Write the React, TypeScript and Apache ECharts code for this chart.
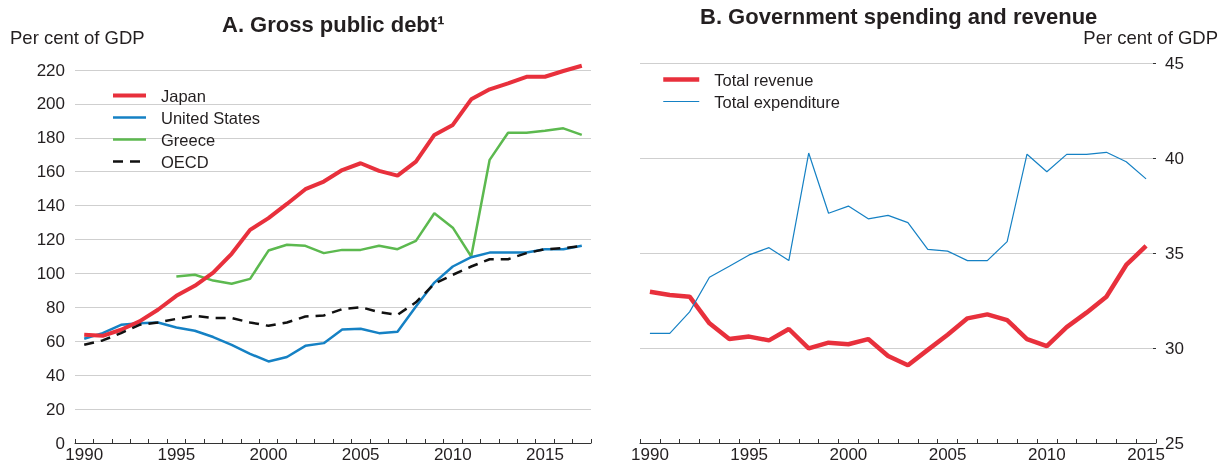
import React, { useEffect, useRef } from "react";
import * as echarts from "echarts";

const yearsA = ["1990","1991","1992","1993","1994","1995","1996","1997","1998","1999","2000","2001","2002","2003","2004","2005","2006","2007","2008","2009","2010","2011","2012","2013","2014","2015","2016","2017"];
const japan = [63.8,63.2,66.8,71.7,78.6,86.8,92.7,100.5,111.6,125.7,132.6,141,149.7,154.2,161,165,160.5,157.7,166,181.7,187.6,202.7,208.6,212.1,216,216,219.4,222.5];
const unitedStates = [61.5,64.8,69.7,70.7,71.1,68.1,66.2,62.5,57.9,52.6,48.1,50.7,57.3,58.9,66.9,67.4,64.8,65.6,80.5,94.6,104.1,109.6,112.3,112.3,112.3,114.3,114.3,116.3];
const greece = [null,null,null,null,null,98.2,99.2,95.8,93.9,96.8,113.5,116.9,116.3,112,113.9,113.9,116.3,114.3,119.2,135.5,127,110,167,183,183,184.2,185.6,181.7];
const oecd = [57.9,60.5,64.8,69.7,71.1,73.2,75,73.7,73.7,71.1,69.1,71.1,74.6,75.2,79,80.1,77.2,75.6,83,93.9,99.2,104.1,108.4,108.4,112,114.3,114.9,116.3];

const yearsB = ["1990","1991","1992","1993","1994","1995","1996","1997","1998","1999","2000","2001","2002","2003","2004","2005","2006","2007","2008","2009","2010","2011","2012","2013","2014","2015"];
const totalRevenue = [32.96,32.79,32.7,31.3,30.47,30.6,30.4,31.0,29.98,30.28,30.2,30.47,29.58,29.09,29.9,30.7,31.56,31.77,31.47,30.47,30.1,31.1,31.86,32.7,34.37,35.37];
const totalExpenditure = [30.77,30.77,31.9,33.72,34.3,34.9,35.28,34.6,40.26,37.09,37.47,36.8,36.98,36.6,35.19,35.1,34.6,34.6,35.6,40.2,39.28,40.19,40.19,40.3,39.8,38.9];

const ticksA = [0, 220, 20];
const ticksB = [25, 45, 5];

const FONT = "'Liberation Sans', Arial, Helvetica, sans-serif";
const TXT = "#231f20";
const RED = "#e8303c";
const BLUE = "#1581c4";
const GREEN = "#5cb94f";
const GRID = "#cfcfcf";

export default function App() {
  const ref = useRef<HTMLDivElement>(null);
  useEffect(() => {
    if (!ref.current) return;
    const chart = echarts.init(ref.current, null, { renderer: "svg" });
    const xAxisCommon = (idx: number, data: string[]) => ({
      type: "category",
      gridIndex: idx,
      data,
      boundaryGap: true,
      axisLine: { lineStyle: { color: "#333", width: 1 } },
      axisTick: { show: true, inside: true, length: 4, interval: 0, lineStyle: { color: "#333" } },
      axisLabel: {
        interval: (i: number) => i % 5 === 0,
        color: TXT,
        fontSize: 17,
        fontFamily: FONT,
        margin: 3,
      },
      splitLine: { show: false },
    });
    const legendCommon = {
      orient: "vertical",
      itemHeight: 14,
      itemGap: 5,
      itemStyle: { opacity: 0 },
      lineStyle: { width: "inherit" },
    };
    chart.setOption({
      animation: false,
      textStyle: { fontFamily: FONT },
      grid: [
        { left: 75, right: 628, top: 70, bottom: 22 },
        { left: 640, right: 63, top: 63, bottom: 22 },
      ],
      xAxis: [xAxisCommon(0, yearsA), xAxisCommon(1, yearsB)],
      yAxis: [
        {
          type: "value",
          gridIndex: 0,
          min: ticksA[0],
          max: ticksA[1],
          interval: ticksA[2],
          axisLine: { show: false },
          axisTick: { show: false },
          axisLabel: { color: TXT, fontSize: 17, fontFamily: FONT, margin: 10 },
          splitLine: { lineStyle: { color: GRID, width: 1 } },
        },
        {
          type: "value",
          gridIndex: 1,
          position: "right",
          min: ticksB[0],
          max: ticksB[1],
          interval: ticksB[2],
          axisLine: { show: false },
          axisTick: { show: true, inside: true, length: 3, lineStyle: { color: "#333" } },
          axisLabel: { color: TXT, fontSize: 17, fontFamily: FONT, margin: 9 },
          splitLine: { lineStyle: { color: GRID, width: 1 } },
        },
      ],
      legend: [
        {
          ...legendCommon,
          left: 106,
          top: 82,
          itemWidth: 33,
          data: ["Japan", "United States", "Greece", "OECD"],
          textStyle: { color: TXT, fontSize: 16.5, fontFamily: FONT, lineHeight: 14, padding: [0, 0, 0, 10] },
        },
        {
          ...legendCommon,
          left: 656,
          top: 66,
          itemWidth: 36,
          data: ["Total revenue", "Total expenditure"],
          textStyle: { color: TXT, fontSize: 16.5, fontFamily: FONT, lineHeight: 14, padding: [0, 0, 0, 10] },
        },
      ],
      graphic: [
        { type: "text", left: 10, top: 28, style: { text: "Per cent of GDP", fontSize: 18.5, fontFamily: FONT, fill: TXT } },
        { type: "text", right: 1, top: 28, style: { text: "Per cent of GDP", fontSize: 18.5, fontFamily: FONT, fill: TXT } },
        { type: "text", left: 222, top: 13, style: { text: "A. Gross public debt\u00b9", fontSize: 22, fontWeight: "bold", fontFamily: FONT, fill: TXT } },
        { type: "text", left: 700, top: 5, style: { text: "B. Government spending and revenue", fontSize: 22, fontWeight: "bold", fontFamily: FONT, fill: TXT } },
      ],
      series: [
        { name: "Japan", type: "line", xAxisIndex: 0, yAxisIndex: 0, data: japan, symbol: "none", clip: false, lineStyle: { color: RED, width: 4 }, itemStyle: { color: RED }, z: 4 },
        { name: "United States", type: "line", xAxisIndex: 0, yAxisIndex: 0, data: unitedStates, symbol: "none", clip: false, lineStyle: { color: BLUE, width: 2.5 }, itemStyle: { color: BLUE }, z: 3 },
        { name: "Greece", type: "line", xAxisIndex: 0, yAxisIndex: 0, data: greece, symbol: "none", clip: false, lineStyle: { color: GREEN, width: 2.5 }, itemStyle: { color: GREEN }, z: 2 },
        { name: "OECD", type: "line", xAxisIndex: 0, yAxisIndex: 0, data: oecd, symbol: "none", clip: false, lineStyle: { color: "#111", width: 2.5, type: [10, 7] }, itemStyle: { color: "#111" }, z: 5 },
        { name: "Total revenue", type: "line", xAxisIndex: 1, yAxisIndex: 1, data: totalRevenue, symbol: "none", clip: false, lineStyle: { color: RED, width: 4.5 }, itemStyle: { color: RED }, z: 3 },
        { name: "Total expenditure", type: "line", xAxisIndex: 1, yAxisIndex: 1, data: totalExpenditure, symbol: "none", clip: false, lineStyle: { color: BLUE, width: 1.2 }, itemStyle: { color: BLUE }, z: 4 },
      ],
    });
    return () => chart.dispose();
  }, []);
  return <div ref={ref} style={{ position: "fixed", left: 0, top: 0, width: 1219, height: 465 }} />;
}
